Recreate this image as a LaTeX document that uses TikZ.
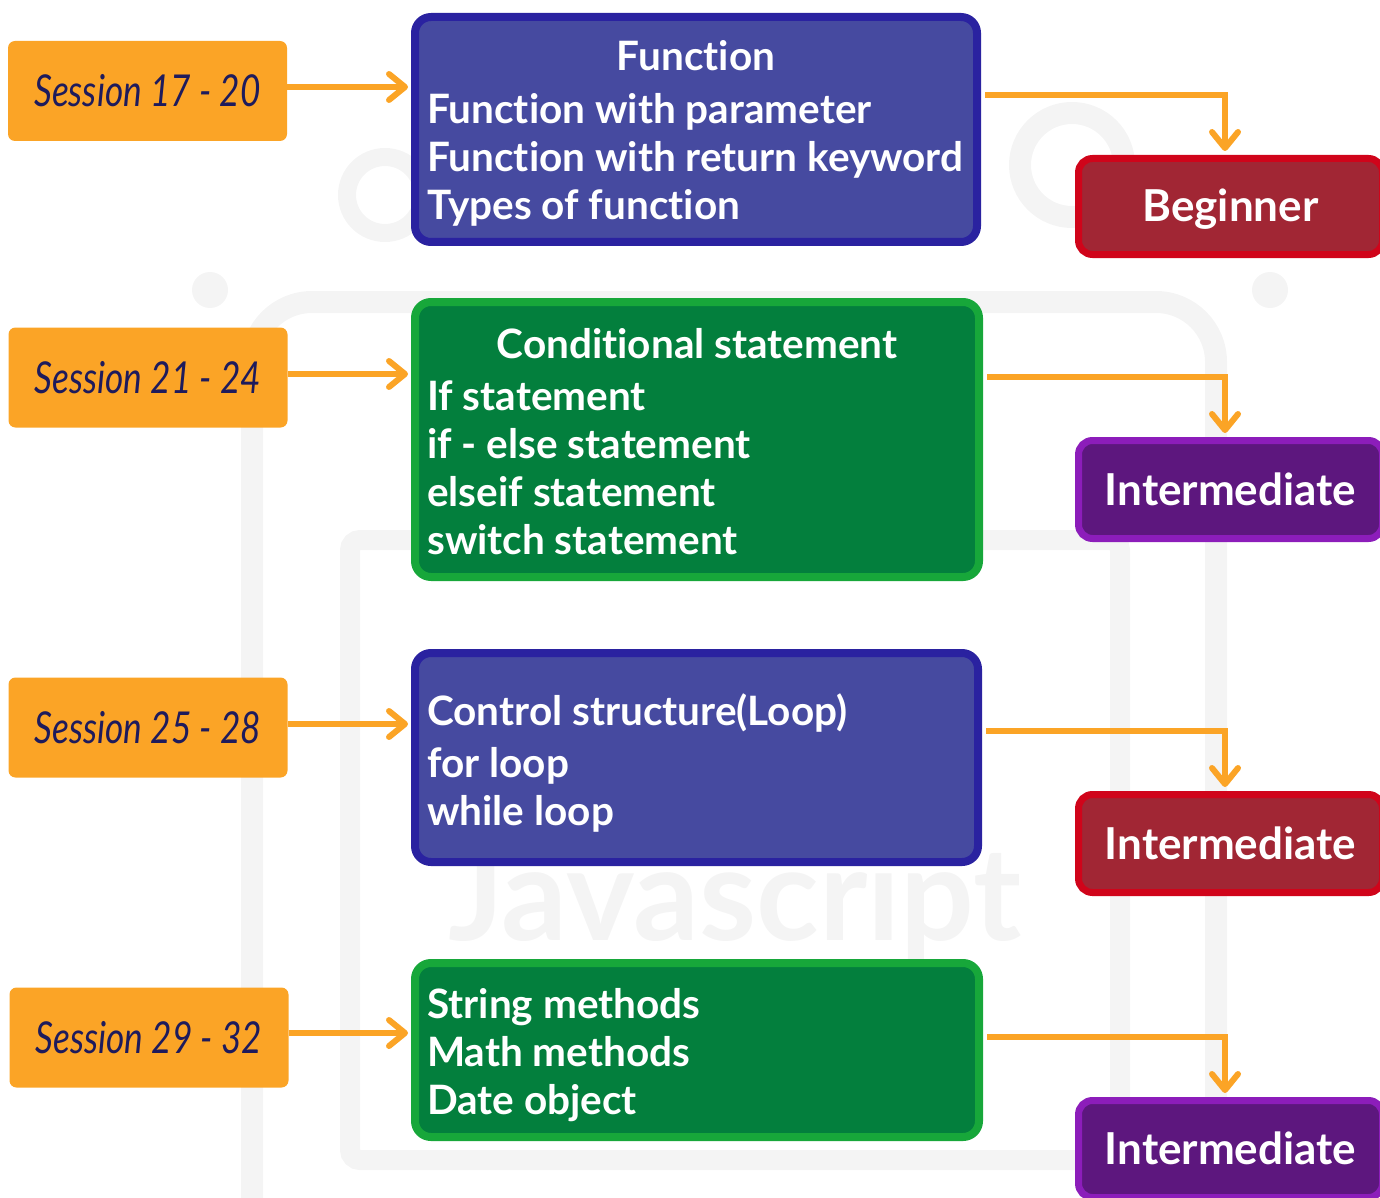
\documentclass[tikz,border=0pt]{standalone}
\usepackage{fontspec}
\setmainfont{Lato}[Ligatures=NoCommon]
\newfontfamily\hand{Lato}
\usetikzlibrary{arrows.meta,calc}
\definecolor{orng}{HTML}{FBA426}
\definecolor{navy}{HTML}{1E1B5C}
\definecolor{bfill}{HTML}{464AA0}
\definecolor{bdraw}{HTML}{2A22A0}
\definecolor{gfill}{HTML}{037F3D}
\definecolor{gdraw}{HTML}{17A73A}
\definecolor{rfill}{HTML}{A12634}
\definecolor{rdraw}{HTML}{D0041A}
\definecolor{pfill}{HTML}{5D177E}
\definecolor{pdraw}{HTML}{8C1DBA}
\definecolor{wm}{HTML}{F4F4F4}
\newcommand{\sesstext}[1]{\scalebox{0.8}[1]{#1}}
\begin{document}
\begin{tikzpicture}[x=1pt,y=-1pt,
  sess/.style={fill=orng, rounded corners=7pt, minimum width=279pt, minimum height=100pt, inner sep=0pt,
     text=navy, font=\hand\itshape\fontsize{44}{50}\selectfont, text height=32pt, text depth=0pt},
  mainbox/.style={line width=8pt, rounded corners=16pt, inner sep=0pt},
  bluebox/.style={mainbox, fill=bfill, draw=bdraw},
  greenbox/.style={mainbox, fill=gfill, draw=gdraw},
  lvl/.style={line width=7pt, rounded corners=14pt, inner sep=0pt, minimum width=304pt,
     text=white, font=\bfseries\fontsize{44}{50}\selectfont, text height=31pt, text depth=0pt},
  redlvl/.style={lvl, fill=rfill, draw=rdraw},
  purplvl/.style={lvl, fill=pfill, draw=pdraw},
  txt/.style={anchor=base west, inner sep=0pt, text=white, font=\bfseries\fontsize{40.5}{48}\selectfont},
  ttl/.style={anchor=base, inner sep=0pt, text=white, font=\bfseries\fontsize{40.5}{48}\selectfont},
  conn/.style={draw=orng, line width=6pt, -{Straight Barb[length=16pt,width=26pt,round]}},
]
\useasboundingbox (0,0) rectangle (1380,1198);
% faint watermark
\begin{scope}[draw=wm, line width=22pt]
  \draw[rounded corners=60pt] (252,1230) -- (252,302) -- (1216,302) -- (1216,1230);
  \draw[line width=20pt, rounded corners=10pt] (350,1160) rectangle (1120,540);
  \draw[line width=18pt] (385,195) circle (38pt);
  \draw[line width=22pt] (1072,165) circle (52pt);
  \fill[wm] (210,290) circle (18pt);
  \fill[wm] (1270,290) circle (18pt);
\end{scope}
\node[text=wm, font=\bfseries\fontsize{130}{130}\selectfont, inner sep=0pt, anchor=base,
      text height=80pt, text depth=0pt] (wmtext) at (735,940) {Javascript};

% session boxes
\node[sess] (s1) at (147.5,91) {\sesstext{Session 17 - 20}};
\node[sess] (s2) at (148,377.5) {\sesstext{Session 21 - 24}};
\node[sess] (s3) at (148,727.5) {\sesstext{Session 25 - 28}};
\node[sess] (s4) at (149,1037.5) {\sesstext{Session 29 - 32}};

% main boxes
\node[bluebox, minimum width=562pt, minimum height=225pt] (f1) at (696,129.5) {};
\node[greenbox, minimum width=564pt, minimum height=275pt] (f2) at (697,439.5) {};
\node[bluebox, minimum width=563pt, minimum height=209pt] (f3) at (696.5,757.5) {};
\node[greenbox, minimum width=564pt, minimum height=174pt] (f4) at (697,1050) {};

\node[ttl] (t11) at (696,71) {Function};
\node[txt] (t12) at (427,124) {Function with parameter};
\node[txt] (t13) at (427,172) {Function with return keyword};
\node[txt] (t14) at (427,220) {Types of function};

\node[ttl] (t21) at (697,358) {Conditional statement};
\node[txt] (t22) at (427,410) {If statement};
\node[txt] (t23) at (427,458) {if - else statement};
\node[txt] (t24) at (427,506) {elseif statement};
\node[txt] (t25) at (427,554) {switch statement};

\node[txt] (t31) at (427,725) {Control structure(Loop)};
\node[txt] (t32) at (427,777) {for loop};
\node[txt] (t33) at (427,825) {while loop};

\node[txt] (t41) at (427,1018) {String methods};
\node[txt] (t42) at (427,1066) {Math methods};
\node[txt] (t43) at (427,1114) {Date object};

% level boxes
\node[redlvl, minimum height=96pt] (r1) at (1230.5,206.5) {Beginner};
\node[purplvl, minimum height=98pt] (r2) at (1230.5,489.5) {Intermediate};
\node[redlvl, minimum height=98pt] (r3) at (1230.5,843.5) {Intermediate};
\node[purplvl, minimum height=97pt] (r4) at (1230.5,1149) {Intermediate};

% connectors
\draw[conn, shorten >=3pt] (s1.east |- 0,87) -- (f1.west |- 0,87);
\draw[conn, shorten >=3pt] (s2.east |- 0,374) -- (f2.west |- 0,374);
\draw[conn, shorten >=3pt] (s3.east |- 0,724) -- (f3.west |- 0,724);
\draw[conn, shorten >=3pt] (s4.east |- 0,1033) -- (f4.west |- 0,1033);

\draw[conn, shorten <=4pt, shorten >=4pt] (f1.east |- 0,95) -| (r1.north -| 1225,0);
\draw[conn, shorten <=4pt, shorten >=4pt] (f2.east |- 0,377) -| (r2.north -| 1225,0);
\draw[conn, shorten <=4pt, shorten >=4pt] (f3.east |- 0,731) -| (r3.north -| 1225,0);
\draw[conn, shorten <=4pt, shorten >=4pt] (f4.east |- 0,1037) -| (r4.north -| 1225,0);
\end{tikzpicture}
\end{document}
